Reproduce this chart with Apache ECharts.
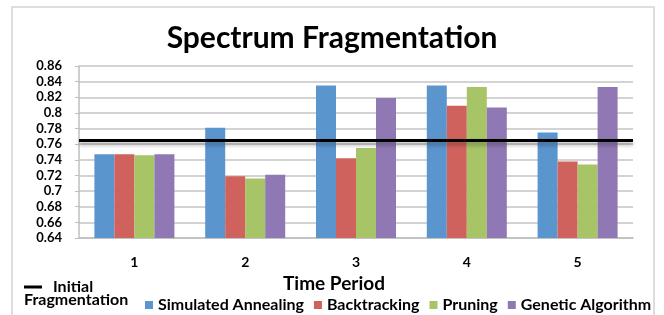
<!DOCTYPE html>
<html>
<head>
<meta charset="utf-8">
<title>Spectrum Fragmentation</title>
<script src="https://cdn.jsdelivr.net/npm/echarts@6/dist/echarts.min.js"></script>
<style>
  html, body { margin: 0; padding: 0; background: #fff; }
  #chart { width: 664px; height: 315px; }
</style>
</head>
<body>
<div id="chart"></div>
<script>
// 数据
var periods = ['1', '2', '3', '4', '5'];
var simulatedAnnealing = [0.747, 0.781, 0.835, 0.835, 0.775];
var backtracking = [0.747, 0.719, 0.742, 0.809, 0.738];
var pruning = [0.746, 0.716, 0.755, 0.833, 0.734];
var geneticAlgorithm = [0.747, 0.721, 0.819, 0.807, 0.833];
var initialFragmentation = 0.765;

var fontName = 'Lato';
var colors = ['#5b95cd', '#cf625c', '#a7c466', '#8f78b3'];

function barSeries(name, data, color) {
  return {
    name: name,
    type: 'bar',
    data: data,
    barWidth: 20,
    barGap: '0%',
    itemStyle: { color: color },
    animation: false
  };
}

var chart = echarts.init(document.getElementById('chart'));

var option = {
  textStyle: { fontFamily: fontName },
  title: {
    text: 'Spectrum Fragmentation',
    left: 'center',
    top: 18,
    textStyle: { fontFamily: fontName, fontSize: 30, fontWeight: 'bold', color: '#000' }
  },
  grid: { left: 79, right: 31, top: 66, bottom: 77 },
  legend: [
    {
      data: [{ name: 'Initial Fragmentation', icon: 'rect' }],
      left: 19,
      top: 274,
      itemWidth: 18,
      itemHeight: 3,
      formatter: function () { return 'Initial'; },
      textStyle: { fontFamily: fontName, fontSize: 16, fontWeight: 'bold', color: '#000', padding: [0, 0, 0, 6] },
      selectedMode: false
    },
    {
      data: ['Simulated Annealing', 'Backtracking', 'Pruning', 'Genetic Algorithm'],
      left: 140,
      top: 292,
      itemWidth: 8,
      itemHeight: 8,
      itemGap: 10,
      icon: 'rect',
      textStyle: { fontFamily: fontName, fontSize: 16, fontWeight: 'bold', color: '#000' },
      selectedMode: false
    }
  ],
  graphic: [
    {
      type: 'rect',
      shape: { x: 12, y: 7, width: 642, height: 330 },
      style: { fill: 'none', stroke: '#d4d4d4', lineWidth: 1.5 },
      silent: true
    },
    {
      type: 'text',
      left: 24,
      top: 292,
      style: { text: 'Fragmentation', fontFamily: fontName, fontSize: 16, fontWeight: 'bold', fill: '#000' },
      silent: true
    }
  ],
  xAxis: {
    type: 'category',
    data: periods,
    name: 'Time Period',
    nameLocation: 'middle',
    nameGap: 35,
    nameTextStyle: { fontFamily: fontName, fontSize: 19, fontWeight: 'bold', color: '#000', padding: [0, 44, 0, 0] },
    axisLine: { lineStyle: { color: '#bfbfbf', width: 1.5 } },
    axisTick: { show: false },
    axisLabel: { margin: 17, fontFamily: fontName, fontSize: 14, fontWeight: 'bold', color: '#000' }
  },
  yAxis: {
    type: 'value',
    min: 0.64,
    max: 0.86,
    interval: 0.02,
    axisLine: { show: true, lineStyle: { color: '#bfbfbf', width: 1.5 } },
    axisTick: { show: true, length: 4, lineStyle: { color: '#bfbfbf' } },
    splitLine: { lineStyle: { color: '#c4c4c4', width: 1.5 } },
    axisLabel: {
      margin: 17,
      fontFamily: fontName,
      fontSize: 13,
      fontWeight: 'bold',
      color: '#000',
      formatter: function (v) { return String(Math.round(v * 100) / 100); }
    }
  },
  series: [
    barSeries('Simulated Annealing', simulatedAnnealing, colors[0]),
    barSeries('Backtracking', backtracking, colors[1]),
    barSeries('Pruning', pruning, colors[2]),
    barSeries('Genetic Algorithm', geneticAlgorithm, colors[3]),
    {
      name: 'Initial Fragmentation',
      type: 'line',
      data: [],
      itemStyle: { color: '#000' },
      lineStyle: { color: '#000', width: 3 },
      animation: false,
      markLine: {
        silent: true,
        precision: 3,
        symbol: ['none', 'none'],
        label: { show: false },
        lineStyle: {
          color: '#000',
          width: 3,
          type: 'solid',
          shadowColor: 'rgba(0,0,0,0.35)',
          shadowBlur: 4,
          shadowOffsetY: 3
        },
        data: [{ yAxis: initialFragmentation }],
        animation: false
      }
    }
  ]
};

chart.setOption(option);
</script>
</body>
</html>
